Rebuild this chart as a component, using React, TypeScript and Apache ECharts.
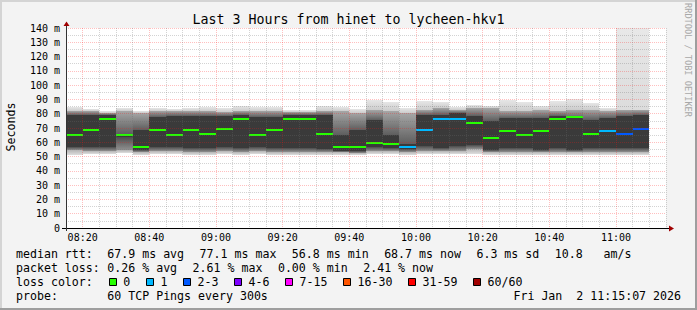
import React, { useEffect, useRef } from "react";
import * as echarts from "echarts";

// ---------- data ----------
const TITLE = "Last 3 Hours from hinet to lycheen-hkv1";
const START_MINUTE = 495; // 08:15
const END_MINUTE = 675; // 11:15
const STEP_MINUTES = 5;
const MAJOR_MINUTES = 20;

// median RTT per 5-minute step (ms)
const medianRtt = [
  65.3, 68.3, 76.5, 65.3, 56.4, 68.3, 65.3, 68.3, 66.0, 69.0,
  76.5, 65.3, 68.3, 76.5, 76.5, 66.0, 56.9, 56.9, 59.7, 59.0,
  56.9, 68.3, 76.5, 76.5, 73.6, 63.2, 67.6, 65.3, 67.6, 76.5,
  77.4, 66.0, 67.6, 66.0, 69.0,
];
// loss colour class per step (0 = 0 lost, 1 = 1 lost, 2 = 2-3 lost)
const lossLevel = [
  0, 0, 0, 0, 0, 0, 0, 0, 0, 0,
  0, 0, 0, 0, 0, 0, 0, 0, 0, 0,
  1, 1, 1, 1, 0, 0, 0, 0, 0, 0,
  0, 0, 1, 2, 2,
];
// smoke: distribution of the pings per step (ms)
const smokeMax = [
  84.4, 83.5, 82.1, 84.0, 82.1, 84.0, 83.0, 84.2, 84.5, 84.0,
  85.5, 84.4, 84.4, 82.8, 82.8, 85.1, 84.4, 83.5, 89.8, 88.2,
  84.0, 88.6, 88.2, 84.8, 86.3, 85.1, 89.8, 88.2, 85.1, 88.6,
  90.5, 87.5, 84.0, 140, 140,
];
const smokeHigh = [
  82.1, 81.6, 80.5, 81.8, 80.5, 81.6, 81.6, 81.8, 82.0, 81.5,
  82.1, 81.6, 81.6, 81.0, 81.0, 82.0, 82.1, 80.5, 82.8, 81.6,
  80.5, 82.8, 84.0, 82.8, 84.0, 84.0, 81.6, 81.6, 82.8, 81.6,
  82.8, 82.8, 82.1, 82.8, 82.8,
];
const smokeUpperQ = [
  78.8, 79.3, 79.3, 66.0, 68.3, 77.5, 78.5, 78.5, 78.5, 78.5,
  79.0, 78.0, 77.5, 79.3, 79.3, 79.3, 65.3, 68.8, 75.8, 65.3,
  58.5, 79.3, 79.3, 80.5, 78.1, 74.6, 77.0, 77.0, 77.0, 78.1,
  77.0, 75.8, 77.0, 78.1, 79.3,
];
const smokeLowerQ = [
  57.0, 56.5, 57.0, 64.0, 54.8, 56.5, 56.5, 56.0, 56.0, 56.5,
  56.0, 56.5, 56.0, 56.0, 56.0, 55.0, 54.2, 54.0, 57.0, 56.0,
  55.5, 57.1, 56.0, 57.1, 58.3, 54.8, 56.0, 56.0, 54.8, 56.0,
  54.8, 56.0, 56.0, 56.0, 56.0,
];
const smokeLow = [
  54.5, 54.0, 54.0, 54.5, 53.5, 54.0, 54.0, 53.5, 53.5, 54.0,
  53.5, 54.0, 53.5, 53.5, 53.5, 53.0, 53.0, 52.8, 54.0, 54.0,
  53.0, 54.0, 54.0, 54.0, 55.0, 53.0, 53.5, 53.5, 53.0, 53.5,
  53.0, 53.5, 53.5, 53.5, 53.5,
];
const smokeMin = [
  51.3, 51.8, 52.0, 52.3, 51.3, 51.5, 51.5, 51.0, 51.3, 51.5,
  51.3, 51.5, 51.3, 51.3, 51.3, 51.0, 51.0, 50.8, 51.5, 51.5,
  51.3, 51.5, 51.5, 51.5, 52.0, 51.0, 51.3, 51.3, 51.0, 51.3,
  51.0, 51.3, 51.3, 51.3, 51.3,
];

const lossColors = ["#26ff00", "#00b8ff", "#0059ff", "#7e00ff", "#ff00ff", "#ff5500", "#ff0000", "#a10000"];
const lossLabels = ["0", "1", "2-3", "4-6", "7-15", "16-30", "31-59", "60/60"];

const rttStats = ["67.9 ms avg", "77.1 ms max", "56.8 ms min", "68.7 ms now", "6.3 ms sd", "10.8   am/s"];
const lossStats = ["0.26 % avg", "2.61 % max", "0.00 % min", "2.41 % now"];
const probeText = "60 TCP Pings every 300s";
const stampText = "Fri Jan  2 11:15:07 2026";

// ---------- layout ----------
const MONO = '"DejaVu Sans Mono", monospace';
const LEGEND_SIZE = 11.6;
const CHAR_W = 6.98; // advance of the legend font
const ITEM_GAP = 15.5; // rrdtool gap between legend items
const LEGEND_X0 = 107.3;
const LINE_Y = [254.3, 268.3, 282.3, 296.2];
const MINOR_GRID = "rgba(110,110,110,0.3)";
const MAJOR_GRID = "rgba(255,20,20,0.27)";

const pad = (n: number) => (n < 10 ? "0" + n : "" + n);

function grad(top: string, bottom: string) {
  return new echarts.graphic.LinearGradient(0, 0, 0, 1, [
    { offset: 0, color: top },
    { offset: 1, color: bottom },
  ]);
}

// left positions of consecutive legend items
function itemPositions(widths: number[], x0: number) {
  const xs: number[] = [];
  let x = x0;
  widths.forEach((w) => {
    xs.push(x);
    x += w + ITEM_GAP;
  });
  return xs;
}

export default function App() {
  const ref = useRef<HTMLDivElement>(null);

  useEffect(() => {
    if (!ref.current) return;
    const chart = echarts.init(ref.current, undefined, { renderer: "svg" });

    const smokeData = medianRtt.map((med, i) => [
      START_MINUTE + i * STEP_MINUTES,
      START_MINUTE + (i + 1) * STEP_MINUTES,
      smokeMin[i],
      smokeLow[i],
      smokeLowerQ[i],
      smokeUpperQ[i],
      smokeHigh[i],
      smokeMax[i],
      med,
      lossLevel[i],
    ]);

    // vertical grid positions (every 5 minutes, major every 20)
    const gridTimes: number[] = [];
    for (let t = START_MINUTE + STEP_MINUTES; t <= END_MINUTE; t += STEP_MINUTES) gridTimes.push(t);

    const renderSmoke = (_params: any, api: any) => {
      const x0v = api.value(0);
      const x1v = api.value(1);
      const left = Math.round(api.coord([x0v, 0])[0]);
      const right = Math.round(api.coord([x1v, 0])[0]);
      const w = right - left;
      const yy = (v: number) => Math.round(api.coord([x0v, v])[1]);
      const yMin = yy(api.value(2));
      const yLow = yy(api.value(3));
      const yLq = yy(api.value(4));
      const yUq = yy(api.value(5));
      const yHigh = yy(api.value(6));
      const yMax = yy(api.value(7));
      const yMed = yy(api.value(8));
      const loss = api.value(9);
      const band = (yb: number, yt: number, fill: any) => ({
        type: "rect",
        shape: { x: left, y: yt, width: w, height: Math.max(0, yb - yt) },
        style: { fill },
      });
      const tall = yHigh - yMax > 30;
      return {
        type: "group",
        children: [
          band(yMin, yLow, grad("#b4b4b4", "#dedede")),
          band(yLow, yLq, grad("#4c4c4c", "#909090")),
          band(yLq, yUq, "#3a3a3a"),
          band(yUq, yHigh, grad("#a6a6a6", "#5e5e5e")),
          band(yHigh, yMax, tall ? grad("#e8e8e8", "#dcdcdc") : grad("#e6e6e6", "#cccccc")),
          {
            type: "rect",
            shape: { x: left, y: yMed - 1, width: w, height: 2 },
            style: { fill: lossColors[loss] },
          },
        ],
      };
    };

    const renderGrid = (_params: any, api: any) => {
      const t = api.value(0);
      const top = api.coord([t, 140]);
      const bottom = api.coord([t, 0]);
      const x = Math.floor(top[0]) + 0.5;
      return {
        type: "line",
        shape: { x1: x, y1: top[1], x2: x, y2: bottom[1] + 2 },
        style: {
          stroke: t % MAJOR_MINUTES === 0 ? MAJOR_GRID : MINOR_GRID,
          lineWidth: 1,
          lineDash: [1, 1],
        },
      };
    };

    const text = (
      t: string,
      x: number,
      y: number,
      size: number,
      align: string = "left",
      extra: any = {}
    ) => ({
      type: "text",
      x,
      y,
      z: 100,
      ...extra,
      style: {
        text: t,
        fill: extra.fill || "#000",
        font: `${size}px ${MONO}`,
        textAlign: align,
        textVerticalAlign: "middle",
      },
    });

    const rttX = itemPositions(rttStats.map((s) => s.length * CHAR_W), LEGEND_X0);
    const lossX = itemPositions(lossStats.map((s) => s.length * CHAR_W), LEGEND_X0);
    const boxX = itemPositions(lossLabels.map((s) => 14.6 + s.length * CHAR_W), 108.7);

    const graphics: any[] = [
      // frame shading
      { type: "rect", z: 100, shape: { x: 0, y: 0, width: 697, height: 2 }, style: { fill: "#d4d4d4" } },
      { type: "rect", z: 100, shape: { x: 0, y: 0, width: 2, height: 310 }, style: { fill: "#d4d4d4" } },
      { type: "rect", z: 100, shape: { x: 0, y: 308, width: 697, height: 2 }, style: { fill: "#9e9e9e" } },
      { type: "rect", z: 100, shape: { x: 695, y: 0, width: 2, height: 310 }, style: { fill: "#9e9e9e" } },
      // axes lines and arrows
      { type: "line", z: 100, shape: { x1: 62, y1: 228.5, x2: 670, y2: 228.5 }, style: { stroke: "#000", lineWidth: 1 } },
      { type: "line", z: 100, shape: { x1: 66.5, y1: 231, x2: 66.5, y2: 25 }, style: { stroke: "#333", lineWidth: 1 } },
      { type: "polygon", z: 101, shape: { points: [[674, 228.5], [669, 225.5], [669, 231.5]] }, style: { fill: "#a00000" } },
      { type: "polygon", z: 101, shape: { points: [[66.5, 21.5], [63.5, 26], [69.5, 26]] }, style: { fill: "#a00000" } },
      // title & side texts
      text(TITLE, 348.5, 19.5, 13.3, "center"),
      text("Seconds", 10.5, 127, LEGEND_SIZE, "center", { rotation: Math.PI / 2 }),
      text("RRDTOOL / TOBI OETIKER", 687.5, 60, 8.6, "center", { rotation: -Math.PI / 2, fill: "#a8a8a8" }),
      // legend
      text("median rtt:", 16, LINE_Y[0], LEGEND_SIZE),
      ...rttStats.map((s, i) => text(s, rttX[i], LINE_Y[0], LEGEND_SIZE)),
      text("packet loss:", 16, LINE_Y[1], LEGEND_SIZE),
      ...lossStats.map((s, i) => text(s, lossX[i], LINE_Y[1], LEGEND_SIZE)),
      text("loss color:", 16, LINE_Y[2], LEGEND_SIZE),
      ...lossLabels.map((s, i) => text(s, boxX[i] + 14.6, LINE_Y[2], LEGEND_SIZE)),
      ...lossColors.map((c, i) => ({
        type: "rect",
        z: 100,
        shape: { x: Math.round(boxX[i]) + 0.5, y: 278.5, width: 7, height: 7 },
        style: { fill: c, stroke: "#000", lineWidth: 1 },
      })),
      text("probe:", 16, LINE_Y[3], LEGEND_SIZE),
      text(probeText, LEGEND_X0, LINE_Y[3], LEGEND_SIZE),
      text(stampText, 681, LINE_Y[3], LEGEND_SIZE, "right"),
    ];

    chart.setOption({
      animation: false,
      backgroundColor: "#f3f3f3",
      grid: {
        left: 66,
        top: 28,
        width: 600,
        height: 200,
        show: true,
        backgroundColor: "#ffffff",
        borderWidth: 0,
      },
      xAxis: {
        type: "value",
        min: START_MINUTE,
        max: END_MINUTE,
        interval: STEP_MINUTES,
        z: 10,
        axisLine: { show: false },
        axisTick: { show: false },
        axisLabel: {
          margin: 4,
          color: "#000",
          fontFamily: MONO,
          fontSize: 10,
          formatter: (v: number) =>
            v % MAJOR_MINUTES === 0 ? pad(Math.floor(v / 60)) + ":" + pad(v % 60) : "",
        },
        splitLine: { show: false },
      },
      yAxis: {
        type: "value",
        min: 0,
        max: 140,
        interval: 10,
        z: 10,
        axisLine: { show: false },
        axisTick: { show: false },
        axisLabel: {
          margin: 6,
          color: "#000",
          fontFamily: MONO,
          fontSize: 10,
          formatter: (v: number) => (v === 0 ? "0" : v + " m"),
        },
        splitLine: { show: true, lineStyle: { color: MAJOR_GRID, type: "dotted", width: 1 } },
        minorTick: { show: false, splitNumber: 2 },
        minorSplitLine: { show: true, lineStyle: { color: MINOR_GRID, type: "dotted", width: 1 } },
      },
      series: [
        {
          type: "custom",
          renderItem: renderSmoke,
          clip: true,
          data: smokeData,
          encode: { x: [0, 1], y: [2, 7] },
          z: 2,
          silent: true,
        },
        {
          type: "custom",
          renderItem: renderGrid,
          clip: false,
          data: gridTimes.map((t) => [t]),
          encode: { x: 0 },
          z: 11,
          silent: true,
        },
      ],
      graphic: graphics,
    });

    return () => chart.dispose();
  }, []);

  return (
    <div
      ref={ref}
      style={{ position: "fixed", left: 0, top: 0, width: 697, height: 310 }}
    />
  );
}
